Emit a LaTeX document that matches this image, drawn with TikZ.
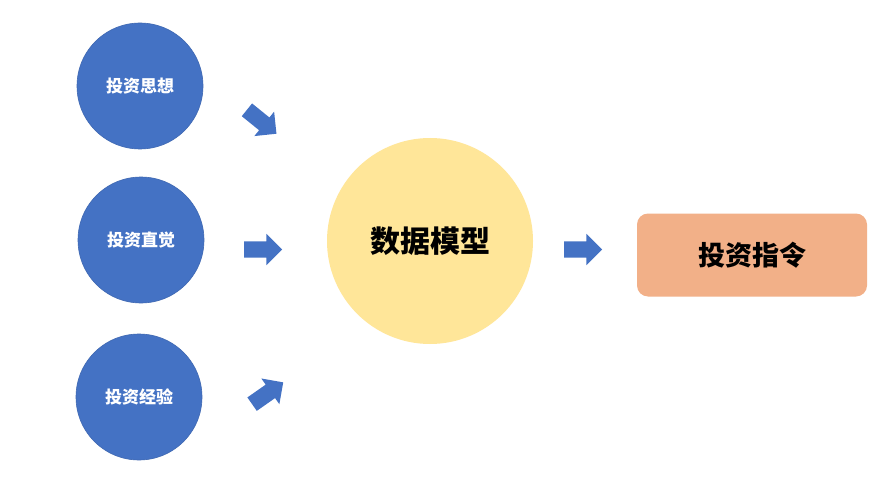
\documentclass[tikz,border=0pt]{standalone}
\usepackage{fontspec}
\newfontfamily\cjk{Noto Sans CJK SC}
\usetikzlibrary{shapes.arrows}
\definecolor{cblue}{HTML}{4472C4}
\definecolor{cblueedge}{HTML}{3F68B2}
\definecolor{cyellow}{HTML}{FFE699}
\definecolor{corange}{HTML}{F2B088}
\begin{document}
\begin{tikzpicture}[x=1pt,y=-1pt,
  smallc/.style={circle,fill=cblue,draw=cblueedge,line width=0.6pt,minimum size=126pt,inner sep=0pt,
     text=white,font=\cjk\bfseries\fontsize{17}{19}\selectfont},
  bigc/.style={circle,fill=cyellow,minimum size=206pt,inner sep=0pt,
     text=black,font=\cjk\bfseries\fontsize{30}{34}\selectfont},
  outbox/.style={rectangle,rounded corners=11pt,fill=corange,minimum width=230pt,minimum height=83pt,
     inner sep=0pt,text=black,font=\cjk\bfseries\fontsize{27}{30}\selectfont},
  fatarrow/.style={single arrow,fill=cblue,inner xsep=0pt,inner ysep=8pt,minimum height=38pt,
     single arrow head extend=7.5pt,single arrow head indent=0pt}
]
\useasboundingbox (0,0) rectangle (875,484);
\fill[white] (0,0) rectangle (875,484);
\node[smallc] (c1) at (140,86) {投资思想};
\node[smallc] (c2) at (141,240) {投资直觉};
\node[smallc] (c3) at (139,397) {投资经验};
\node[bigc] (m) at (430,241) {数据模型};
\node[outbox] (o) at (752,255) {投资指令};
\node[fatarrow,rotate=-39] (a1) at (258.5,119.2) {};
\node[fatarrow] (a2) at (259,249.5) {};
\node[fatarrow,rotate=35] (a3) at (264.3,395.6) {};
\node[fatarrow] (a4) at (579,249.5) {};
\end{tikzpicture}
\end{document}
